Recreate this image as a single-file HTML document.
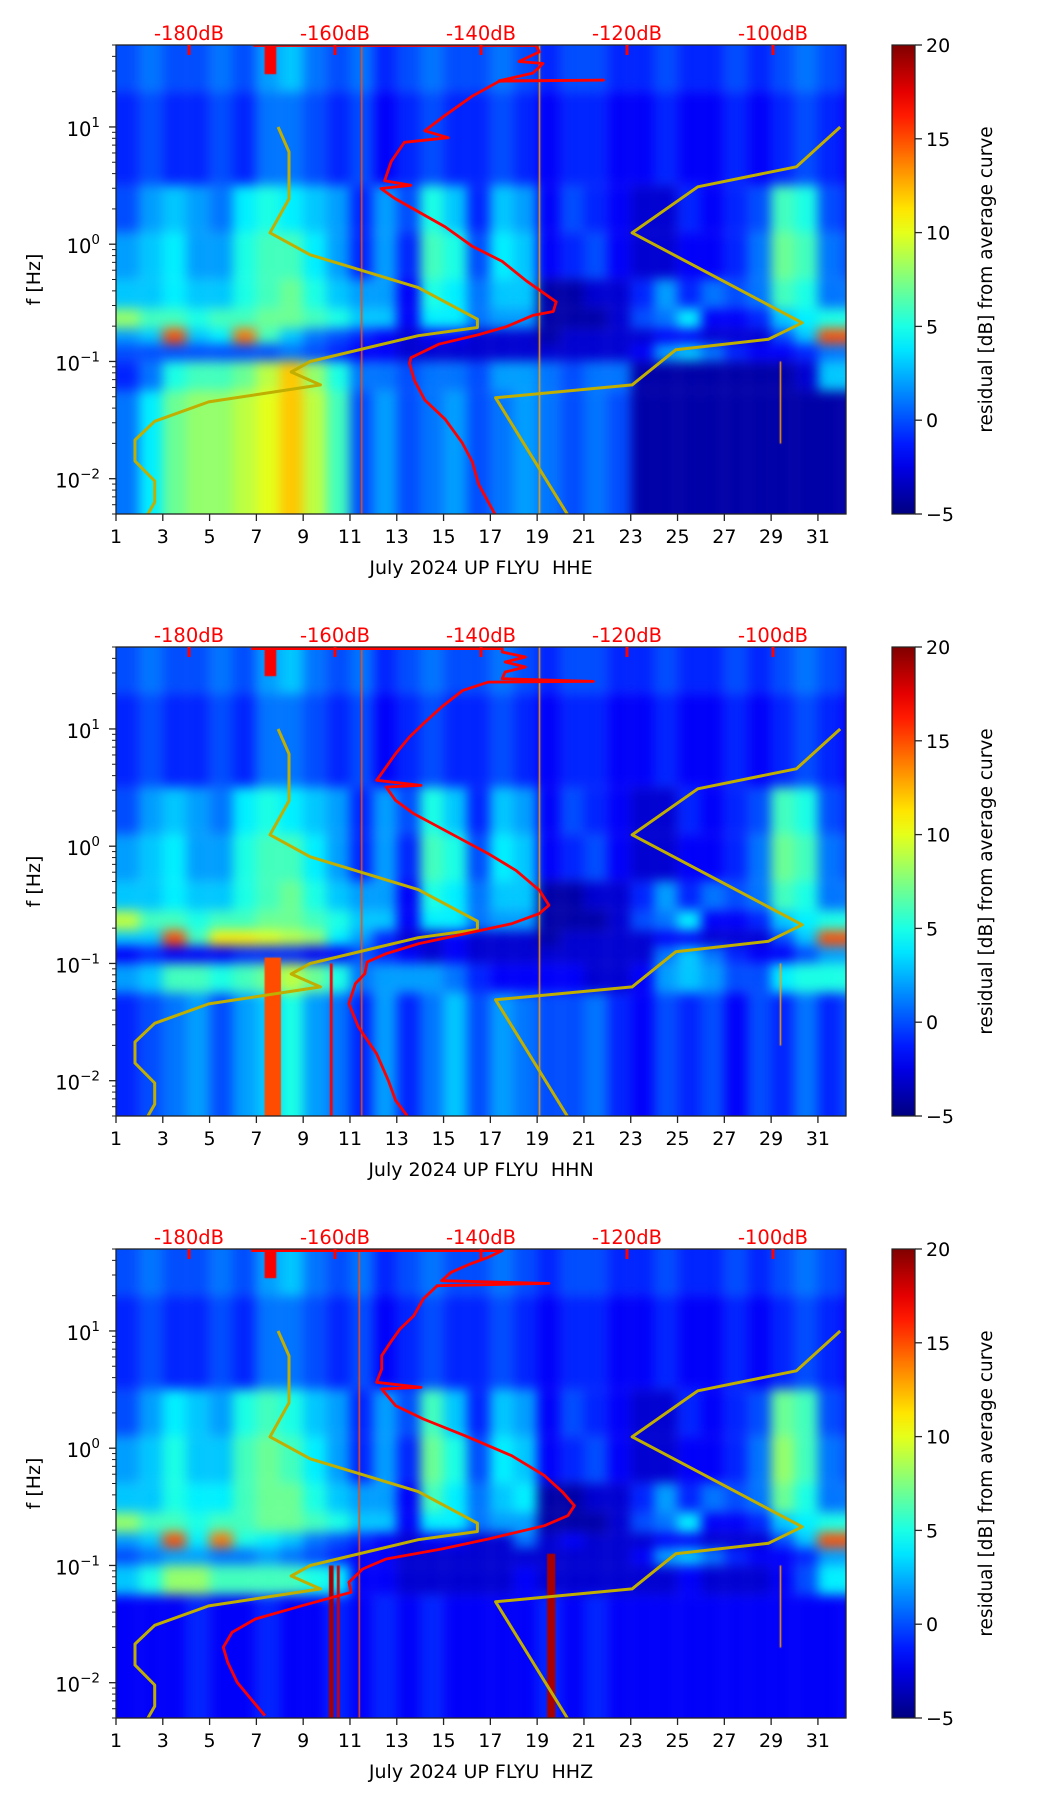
<!DOCTYPE html>
<html><head><meta charset="utf-8">
<style>
html,body{margin:0;padding:0;background:#fff;}
#root{position:relative;width:1052px;height:1806px;overflow:hidden;background:#fff;font-family:"DejaVu Sans","Liberation Sans",sans-serif;}
canvas.hm{position:absolute;}
svg.ov{position:absolute;left:0;top:0;}
</style></head>
<body>
<div id="root"></div>
<script>
// ---------- shared data ----------
const xDomain = [1, 32.2];
const yDomainLog = [Math.log10(50), Math.log10(0.005)];
const dbDomain = [-190, -90];
const dayTicks = [1,3,5,7,9,11,13,15,17,19,21,23,25,27,29,31];
const dbTicks = [-180,-160,-140,-120,-100];
const decadeTicks = [1,0,-1,-2];
const cbTicks = [20,15,10,5,0,-5];
const cbDomain = [-5, 20];
const rowBoundsLog = [1.699,1.3,0.5,0.1,-0.3,-0.55,-0.72,-0.85,-1.0,-1.25,-2.301];
const channelNames = ["HHE","HHN","HHZ"];

// yellow model curves (dB, log10 f)
const lowNoiseDb = [-167.8,-166.3,-166.3,-168.9,-163.4,-148.6,-140.5,-140.5,-148.6,-163.4,-166,-162,-177.3,-184.7,-187.4,-187.4,-184.7,-184.7,-185.8];
const lowNoiseLogF = [1.0,0.787,0.386,0.097,-0.09,-0.37,-0.64,-0.71,-0.78,-1.0,-1.09,-1.2,-1.345,-1.51,-1.67,-1.85,-2.02,-2.2,-2.32];
const highNoiseDb = [-90.8,-96.8,-110.3,-119.3,-96,-100.6,-113.3,-119.3,-138,-128];
const highNoiseLogF = [1.0,0.66,0.49,0.097,-0.67,-0.81,-0.9,-1.2,-1.31,-2.32];

// red average curves
const avgDbE = [-171.2,-132.5,-132,-134.8,-131.5,-132.9,-137.5,-123.2,-137.5,-141.2,-144.9,-147.7,-144.5,-150.5,-152.3,-153.2,-149.6,-153.7,-151.9,-147.7,-144.9,-141.2,-137.1,-133.8,-129.7,-130.1,-132.9,-136.6,-140.3,-145.8,-149.6,-149.8,-149.1,-147.7,-144.9,-142.6,-141.2,-140.3,-138];
const avgLogE = [1.695,1.695,1.64,1.558,1.541,1.459,1.394,1.4,1.39,1.262,1.099,0.967,0.908,0.869,0.705,0.541,0.502,0.475,0.394,0.246,0.148,-0.017,-0.147,-0.312,-0.492,-0.574,-0.607,-0.705,-0.771,-0.853,-0.968,-1.017,-1.165,-1.329,-1.493,-1.69,-1.853,-2.05,-2.313];
const avgDbN = [-171.5,-137.1,-137.1,-133.9,-136.7,-133.9,-136.7,-137.1,-124.6,-139.0,-142.5,-145.4,-147.9,-149.8,-151.7,-153.0,-154.3,-148.2,-153.0,-151.7,-149.2,-144.1,-139.0,-135.2,-132.0,-130.7,-132.0,-135.8,-142.2,-148.5,-153.0,-155.6,-155.9,-157.2,-158.1,-156.8,-154.3,-152.7,-151.7,-150.1];
const avgLogN = [1.685,1.685,1.656,1.614,1.571,1.528,1.486,1.429,1.406,1.4,1.329,1.187,1.045,0.931,0.789,0.675,0.562,0.519,0.505,0.391,0.277,0.107,-0.064,-0.206,-0.376,-0.504,-0.575,-0.661,-0.746,-0.831,-0.917,-0.988,-1.087,-1.172,-1.343,-1.542,-1.77,-1.997,-2.168,-2.301];
const avgDbZ = [-171.5,-137.1,-139.0,-141.5,-144.1,-145.4,-130.7,-146.0,-147.9,-149.2,-151.1,-152.4,-153.6,-153.6,-154.3,-148.2,-153.6,-151.7,-147.9,-142.2,-135.8,-131.3,-128.8,-127.2,-128.1,-131.3,-139.0,-145.4,-153.0,-156.2,-158.1,-157.8,-164.5,-170.9,-174.1,-175.3,-174.7,-173.4,-169.6];
const avgLogZ = [1.685,1.685,1.628,1.571,1.5,1.429,1.406,1.386,1.273,1.13,1.017,0.903,0.789,0.675,0.562,0.519,0.505,0.363,0.249,0.107,-0.064,-0.234,-0.376,-0.49,-0.575,-0.661,-0.774,-0.86,-0.945,-1.03,-1.144,-1.229,-1.343,-1.457,-1.57,-1.698,-1.826,-1.997,-2.281];

// heatmap residuals (rows top->bottom, columns day 1..32)
const hmE = [
[0,1,0,0,1,0,2,3,1,0,1,-1,0,1,0,0,1,0,-1,0,0,-1,-1,0,-1,-1,0,-1,0,1,0,-1],
[-1,0,-1,-1,0,-1,1,1,0,-1,0,-2,-1,0,-1,-1,0,-1,-2,-1,-1,-2,-2,-1,-2,-2,-1,-2,-1,0,-1,-2],
[0,2,3,2,1,4,5,4,3,2,-1,2,0,5,3,-1,3,2,-2,0,-1,-2,-3,-3,-1,-2,-1,0,6,5,0,-1],
[2,3,4,2,2,5,6,6,4,2,-1,2,-1,6,5,0,4,3,-2,-1,0,-2,-3,-3,-2,-2,-1,1,7,6,1,0],
[3,3,4,3,3,5,6,7,5,3,2,2,-2,5,4,1,3,3,-4,-4,-3,-3,-1,2,-1,1,0,1,6,5,1,1],
[8,6,6,5,6,6,7,7,6,5,3,3,-2,4,4,1,2,2,-4,-4,-4,-3,0,1,4,-2,-2,-1,3,4,5,5],
[2,3,15,3,4,14,6,3,1,0,-1,-2,-3,-2,-2,-3,-3,-3,-4,-3,-3,-3,-3,-2,-2,-3,-3,-3,0,3,15,15],
[0,0,0,0,0,0,0,1,0,-1,-2,-2,-3,-3,-3,-3,-3,-3,-3,-3,-3,-3,-2,2,3,1,-1,-2,-2,-1,1,1],
[-1,1,5,6,6,7,9,12,8,5,1,1,0,1,1,0,2,2,1,0,1,1,-4,-4,-4,-4,-4,-4,-4,-3,3,3],
[1,4,7,8,8,9,10,12,9,6,0,2,0,1,2,0,1,2,1,0,1,0,-4,-4,-4,-4,-4,-4,-4,-4,-4,-4]];
const hmN = [
[0,1,0,0,1,0,2,3,1,0,1,-1,0,1,0,0,1,0,-1,0,0,-1,-1,0,-1,-1,0,-1,0,1,0,-1],
[-1,0,-1,-1,0,-1,1,1,0,-1,0,-2,-1,0,-1,-1,0,-1,-2,-1,-1,-2,-2,-1,-2,-2,-1,-2,-1,0,-1,-2],
[0,2,3,2,1,4,5,4,3,2,-1,2,0,5,3,-1,3,2,-2,0,-1,-2,-3,-3,-1,-2,-1,0,6,5,0,-1],
[2,3,4,2,2,5,6,6,4,2,-1,2,-1,6,5,0,4,3,-2,-1,0,-2,-3,-3,-2,-2,-1,1,7,6,1,0],
[3,3,4,3,3,5,6,7,5,3,2,2,-2,5,4,1,3,3,-4,-4,-3,-3,-1,2,-1,1,0,1,6,5,1,1],
[9,6,6,5,6,6,7,7,6,5,3,3,-2,4,4,1,2,2,-4,-4,-4,-3,0,1,4,-2,-2,-1,3,4,5,5],
[3,3,15,6,11,11,10,9,8,4,2,-1,-3,-3,-2,-3,-3,-3,-4,-3,-3,-3,-3,-2,-2,-3,-3,-3,0,3,15,15],
[-2,-1,-2,-2,-2,-1,-1,-1,-2,-2,0,-1,-2,-3,-2,-3,-3,-3,-3,-3,-3,-3,-3,1,3,1,-1,-2,-2,0,2,2],
[2,3,6,6,5,6,7,9,7,5,1,2,2,2,1,-1,-2,-2,-2,-2,-3,-3,-2,2,3,2,0,0,4,5,5,5],
[-1,0,1,2,0,2,3,5,2,1,-1,2,-1,1,3,0,2,1,0,0,1,-1,-2,0,-1,0,-2,0,-1,1,-1,0]];
const hmZ = [
[0,1,0,0,1,0,2,3,1,0,1,-1,0,1,0,0,1,0,-1,0,0,-1,-1,0,-1,-1,0,-1,0,1,0,-1],
[-1,0,-1,-1,0,-1,1,1,0,-1,0,-2,-1,0,-1,-1,0,-1,-2,-1,-1,-2,-2,-1,-2,-2,-1,-2,-1,0,-1,-2],
[0,2,4,3,2,5,6,5,3,2,-1,2,0,6,3,-1,3,2,-2,0,-1,-2,-3,-3,-1,-2,-1,0,7,6,0,-1],
[2,3,5,3,3,6,7,6,4,2,-1,2,-1,7,5,0,4,3,-2,-1,0,-2,-3,-3,-2,-2,-1,1,8,6,1,0],
[3,3,5,4,4,6,7,7,5,3,2,2,-2,6,4,1,3,4,-4,-4,-3,-3,-1,2,-1,1,0,1,7,5,1,1],
[8,6,6,5,6,6,7,7,6,5,3,3,-2,4,4,1,2,2,-4,-4,-4,-3,0,1,4,-2,-2,-1,3,4,5,5],
[2,3,15,4,14,5,4,3,1,0,-1,-2,-3,-2,-2,-3,-3,1,-3,-2,-3,-3,-3,-2,-2,-3,-3,-3,0,3,15,15],
[0,1,2,2,1,1,2,1,0,-1,-2,-2,-3,-3,-3,-3,-3,-3,-3,-3,-3,-3,-2,2,3,1,-1,-2,-2,-1,2,2],
[3,5,8,8,6,6,6,6,5,4,-2,-2,-3,-3,-3,-3,-3,-2,-3,-3,-3,-3,-3,-3,-2,-3,-3,-3,-2,0,4,4],
[-2,-2,-2,-1,-2,-2,-1,-2,-2,-1,-2,-1,-2,-1,-2,-2,-2,-2,-1,-2,-1,-2,-2,-2,-2,-2,-2,-2,-2,-2,-2,-2]];

// narrow vertical streaks: day, value, width (days), logf top, logf bottom
const streakDayE = [7.6, 11.5, 19.1, 29.4];
const streakValE = [17, 15, 13, 13];
const streakWE = [0.5, 0.06, 0.06, 0.06];
const streakTopE = [1.699, 1.699, 1.699, -1.0];
const streakBotE = [1.45, -2.301, -2.301, -1.7];
const streakDayN = [7.6, 7.7, 11.5, 10.2, 19.1, 29.4];
const streakValN = [17, 15, 15, 17, 13, 13];
const streakWN = [0.5, 0.7, 0.06, 0.12, 0.06, 0.06];
const streakTopN = [1.699, -0.95, 1.699, -1.0, 1.699, -1.0];
const streakBotN = [1.45, -2.301, -2.301, -2.301, -2.301, -1.7];
const streakDayZ = [7.6, 10.2, 10.5, 11.4, 19.6, 29.4];
const streakValZ = [17, 19, 18, 15, 19, 13];
const streakWZ = [0.5, 0.2, 0.12, 0.06, 0.35, 0.06];
const streakTopZ = [1.699, -1.0, -1.0, 1.699, -0.9, -1.0];
const streakBotZ = [1.45, -2.301, -2.301, -2.301, -2.301, -1.7];

// ---------- layout ----------
const panelTops = [45, 647, 1249];
const PL = 116, PW = 730, PH = 469;
const CBX = 892, CBW = 23;
const NS = "http://www.w3.org/2000/svg";
const root = document.getElementById('root');

function jet(v){
  const t = Math.max(0, Math.min(1, (v - cbDomain[0])/(cbDomain[1]-cbDomain[0])));
  const c = x => Math.round(255*Math.max(0, Math.min(1, x)));
  return `rgb(${c(1.5-Math.abs(4*t-3))},${c(1.5-Math.abs(4*t-2))},${c(1.5-Math.abs(4*t-1))})`;
}
function mk(tag, attrs, parent){
  const e = document.createElementNS(NS, tag);
  for (const k in attrs) e.setAttribute(k, attrs[k]);
  if (parent) parent.appendChild(e);
  return e;
}

const svg = mk('svg', {class:'ov', width:1052, height:1806, viewBox:'0 0 1052 1806'});


const defs = mk('defs', {}, svg);
const grad = mk('linearGradient', {id:'jetg', x1:0, y1:1, x2:0, y2:0}, defs);
for (let i = 0; i <= 20; i++) {
  mk('stop', {offset: (i/20), 'stop-color': jet(cbDomain[0] + i/20*(cbDomain[1]-cbDomain[0]))}, grad);
}

const heatmaps = [hmE, hmN, hmZ];
const avgDbs = [avgDbE, avgDbN, avgDbZ];
const avgLogs = [avgLogE, avgLogN, avgLogZ];
const sDays = [streakDayE, streakDayN, streakDayZ];
const sVals = [streakValE, streakValN, streakValZ];
const sWs = [streakWE, streakWN, streakWZ];
const sTops = [streakTopE, streakTopN, streakTopZ];
const sBots = [streakBotE, streakBotN, streakBotZ];

panelTops.forEach((T, p) => {
  const xS = d => PL + (d - xDomain[0])/(xDomain[1]-xDomain[0])*PW;
  const yS = L => T + (yDomainLog[0] - L)/(yDomainLog[0]-yDomainLog[1])*PH;
  const dbS = db => PL + (db - dbDomain[0])/(dbDomain[1]-dbDomain[0])*PW;

  const cv = document.createElement('canvas');
  cv.className = 'hm';
  cv.width = PW; cv.height = PH;
  cv.style.left = PL + 'px'; cv.style.top = T + 'px';
  
  
  root.appendChild(cv);
  const off = document.createElement('canvas');
  off.width = PW + 40; off.height = PH + 40;
  const oc = off.getContext('2d');
  const hm = heatmaps[p];
  hm.forEach((row, r) => {
    row.forEach((v, c) => {
      const d = c + 1;
      const x0 = xS(d) - PL + 20, x1 = xS(d + 1) - PL + 20;
      const y0 = yS(rowBoundsLog[r]) - T + 20, y1 = yS(rowBoundsLog[r+1]) - T + 20;
      oc.fillStyle = jet(v);
      oc.fillRect(c === 0 ? 0 : x0, r === 0 ? 0 : y0, (c === 0 ? x1 : x1 - x0) + (c === row.length-1 ? 40 : 0), (r === 0 ? y1 : y1 - y0) + (r === hm.length-1 ? 40 : 0));
    });
  });
  const ctx = cv.getContext('2d');
  ctx.filter = 'blur(6px)';
  ctx.drawImage(off, -20, -20);
  ctx.filter = 'none';
  sDays[p].forEach((d, i) => {
    ctx.fillStyle = jet(sVals[p][i]);
    const y0 = yS(sTops[p][i]) - T, y1 = yS(sBots[p][i]) - T;
    const w = Math.max(1.5, xS(d + sWs[p][i]) - xS(d));
    ctx.fillRect(xS(d) - PL - w/2, y0, w, y1 - y0);
  });

  const g = mk('g', {}, svg);
  
  

  const cp = mk('clipPath', {id:'clip'+p}, defs);
  mk('rect', {x:PL, y:T, width:PW, height:PH}, cp);
  const lines = mk('g', {'clip-path':'url(#clip'+p+')'}, g);

  const pts = (dbs, ls) => dbs.map((db, i) => dbS(db).toFixed(1) + ',' + yS(ls[i]).toFixed(1)).join(' ');
  const ln = mk('polyline', {points: pts(lowNoiseDb, lowNoiseLogF), fill:'none', stroke:'#c0ae00', 'stroke-width':3, 'stroke-linejoin':'round'}, lines);
  
  
  const hn = mk('polyline', {points: pts(highNoiseDb, highNoiseLogF), fill:'none', stroke:'#c0ae00', 'stroke-width':3, 'stroke-linejoin':'round'}, lines);
  
  
  const av = mk('polyline', {points: pts(avgDbs[p], avgLogs[p]), fill:'none', stroke:'#ff0000', 'stroke-width':2.8, 'stroke-linejoin':'round'}, lines);
  
  

  const fr = mk('rect', {x:PL, y:T, width:PW, height:PH, fill:'none', stroke:'#222', 'stroke-width':1.3}, g);
  
  

  dayTicks.forEach(d => {
    const x = xS(d);
    mk('line', {x1:x, y1:T+PH, x2:x, y2:T+PH+7, stroke:'#222', 'stroke-width':1.3}, g);
    const t = mk('text', {x:x, y:T+PH+29, 'text-anchor':'middle', 'font-size':19, fill:'#000'}, g);
    t.textContent = d;
    
    
  });
  const xl = mk('text', {x:PL+PW/2, y:T+PH+60, 'text-anchor':'middle', 'font-size':19, fill:'#000'}, g);
  xl.textContent = 'July 2024 UP FLYU\u00a0\u00a0' + channelNames[p];
  
  

  dbTicks.forEach(db => {
    const x = dbS(db);
    mk('line', {x1:x, y1:T, x2:x, y2:T+10, stroke:'#ff0000', 'stroke-width':3}, g);
    const t = mk('text', {x:x, y:T-5, 'text-anchor':'middle', 'font-size':19.5, fill:'#ff0000'}, g);
    t.textContent = db + 'dB';
    
    
  });

  for (let dec = -3; dec <= 1; dec++) {
    for (let m = 1; m <= 9; m++) {
      const L = dec + Math.log10(m);
      if (L > yDomainLog[0] + 1e-6 || L < yDomainLog[1] - 1e-6) continue;
      const y = yS(L);
      mk('line', {x1:PL, y1:y, x2:PL-(m===1?7:4), y2:y, stroke:'#222', 'stroke-width':m===1?1.3:1}, g);
    }
  }
  decadeTicks.forEach(dec => {
    const y = yS(dec);
    const t = mk('text', {x:100, y:y+9, 'text-anchor':'end', 'font-size':19.5, fill:'#000'}, g);
    
    
    const a = mk('tspan', {}, t); a.textContent = '10';
    const b = mk('tspan', {dy:-9, 'font-size':13.5}, t); b.textContent = dec < 0 ? '\u2212' + (-dec) : String(dec);
  });
  const yl = mk('text', {x:0, y:0, transform:`translate(40,${T+PH/2}) rotate(-90)`, 'text-anchor':'middle', 'font-size':19, fill:'#000'}, g);
  yl.textContent = 'f [Hz]';
  
  

  const cb = mk('rect', {x:CBX, y:T, width:CBW, height:PH, fill:'url(#jetg)', stroke:'#222', 'stroke-width':1.2}, g);
  
  
  const cbS = v => T + PH - (v - cbDomain[0])/(cbDomain[1]-cbDomain[0])*PH;
  cbTicks.forEach(v => {
    const y = cbS(v);
    mk('line', {x1:CBX+CBW, y1:y, x2:CBX+CBW+7, y2:y, stroke:'#222', 'stroke-width':1.3}, g);
    const t = mk('text', {x:CBX+CBW+11, y:y+7, 'font-size':19, fill:'#000'}, g);
    t.textContent = v < 0 ? '\u2212' + (-v) : String(v);
    
    
  });
  const cl = mk('text', {x:0, y:0, transform:`translate(992,${T+PH/2}) rotate(-90)`, 'text-anchor':'middle', 'font-size':18.5, fill:'#000'}, g);
  cl.textContent = 'residual [dB] from average curve';
  
  
});
root.appendChild(svg);
</script>
</body></html>
